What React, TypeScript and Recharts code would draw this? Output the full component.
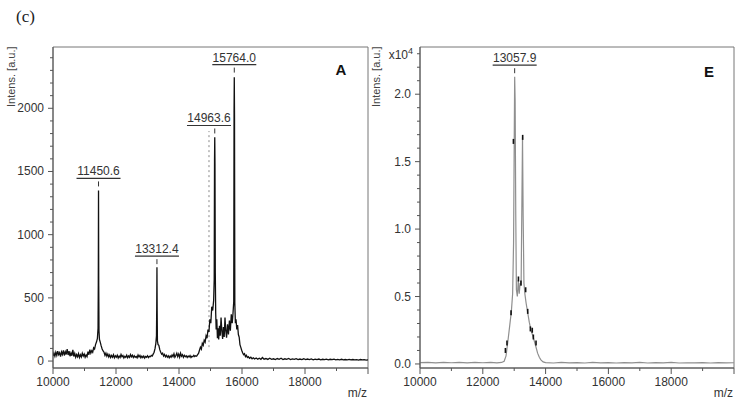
import { LineChart, Line, XAxis, YAxis, ReferenceArea, ReferenceLine, ReferenceDot } from 'recharts'

// panel A spectrum: [m/z, intensity a.u.]
const spectrumA: [number, number][] = [
  [10000, 40], [10030, 62], [10060, 38], [10090, 70], [10120, 45], [10150, 78], [10180, 50], [10210, 66],
  [10240, 35], [10270, 72], [10300, 52], [10330, 85], [10360, 44], [10390, 74], [10420, 52], [10450, 95],
  [10480, 48], [10510, 78], [10540, 38], [10570, 64], [10600, 42], [10630, 88], [10660, 36], [10690, 60],
  [10720, 30], [10750, 52], [10780, 34], [10810, 58], [10840, 28], [10870, 50], [10900, 32], [10930, 62],
  [10960, 40], [10990, 55], [11020, 30], [11050, 48], [11080, 35], [11110, 75], [11140, 50], [11170, 90],
  [11200, 62], [11230, 82], [11260, 70], [11290, 105], [11320, 95], [11350, 130], [11380, 150], [11410, 180],
  [11430, 260], [11438, 620], [11445, 1350], [11452, 600], [11460, 240], [11475, 170], [11500, 150], [11530, 120],
  [11560, 95], [11590, 80], [11620, 70], [11650, 45], [11680, 62], [11710, 38], [11740, 55], [11770, 32],
  [11800, 48], [11830, 28], [11860, 44], [11890, 30], [11920, 50], [11950, 26], [11980, 42], [12010, 30],
  [12040, 46], [12070, 24], [12100, 40], [12130, 28], [12160, 52], [12190, 34], [12220, 44], [12250, 24],
  [12280, 38], [12310, 30], [12340, 46], [12370, 26], [12400, 40], [12430, 30], [12460, 52], [12490, 34],
  [12520, 46], [12550, 28], [12580, 42], [12610, 30], [12640, 36], [12670, 26], [12700, 48], [12730, 32],
  [12760, 44], [12790, 26], [12820, 38], [12850, 28], [12880, 40], [12910, 24], [12940, 36], [12970, 30],
  [13000, 42], [13030, 28], [13060, 38], [13090, 34], [13120, 45], [13150, 40], [13180, 55], [13210, 70],
  [13240, 100], [13265, 140], [13285, 200], [13293, 420], [13300, 742], [13307, 380], [13315, 160], [13335, 130],
  [13360, 125], [13390, 90], [13420, 70], [13450, 55], [13480, 62], [13510, 40], [13540, 52], [13570, 34],
  [13600, 46], [13630, 30], [13660, 42], [13690, 26], [13720, 40], [13750, 30], [13780, 48], [13810, 35],
  [13840, 58], [13870, 30], [13900, 44], [13930, 62], [13960, 35], [13990, 55], [14020, 30], [14050, 62],
  [14080, 38], [14110, 50], [14140, 30], [14170, 46], [14200, 34], [14230, 42], [14260, 28], [14290, 40],
  [14320, 32], [14350, 44], [14380, 28], [14410, 38], [14440, 34], [14470, 45], [14500, 36], [14530, 42],
  [14560, 38], [14590, 50], [14620, 60], [14650, 85], [14680, 110], [14710, 95], [14740, 140], [14770, 125],
  [14800, 165], [14830, 150], [14860, 200], [14890, 180], [14920, 250], [14950, 230], [14980, 330], [15010, 300],
  [15040, 430], [15070, 400], [15100, 480], [15118, 650], [15128, 1580], [15135, 1770], [15142, 1560], [15152, 700],
  [15165, 380], [15180, 250], [15200, 330], [15220, 180], [15240, 260], [15260, 170], [15285, 280], [15310, 200],
  [15335, 345], [15360, 240], [15385, 175], [15410, 270], [15435, 190], [15460, 345], [15485, 240], [15510, 185],
  [15540, 290], [15570, 210], [15600, 320], [15630, 240], [15660, 370], [15690, 300], [15715, 380], [15738, 470],
  [15748, 1970], [15755, 2245], [15762, 1950], [15772, 460], [15790, 300], [15810, 330], [15835, 250], [15860, 285],
  [15885, 210], [15910, 190], [15935, 130], [15960, 110], [15990, 85], [16020, 65], [16050, 50], [16080, 58],
  [16110, 35], [16140, 45], [16170, 28], [16200, 34], [16240, 22], [16280, 30], [16320, 18], [16360, 26],
  [16400, 16], [16450, 24], [16500, 15], [16550, 22], [16600, 14], [16650, 28], [16700, 15], [16760, 20],
  [16820, 13], [16880, 22], [16940, 14], [17000, 18], [17060, 12], [17120, 20], [17180, 14], [17240, 22],
  [17300, 12], [17360, 18], [17420, 13], [17480, 20], [17540, 12], [17600, 17], [17660, 13], [17720, 19],
  [17780, 11], [17840, 16], [17900, 12], [17960, 18], [18020, 11], [18080, 16], [18140, 12], [18200, 17],
  [18260, 10], [18320, 15], [18380, 12], [18440, 16], [18500, 10], [18560, 14], [18620, 11], [18680, 15],
  [18740, 10], [18800, 14], [18860, 11], [18920, 15], [18980, 9], [19040, 13], [19100, 10], [19160, 14],
  [19220, 9], [19280, 12], [19340, 10], [19400, 13], [19460, 9], [19520, 12], [19580, 9], [19640, 11],
  [19700, 8], [19760, 12], [19820, 9], [19880, 11], [19940, 8], [20000, 10],
]

// panel E spectrum: [m/z, intensity x10^4]
const spectrumE: [number, number][] = [
  [10000, 0.01], [10250, 0.012], [10500, 0.008], [10750, 0.011], [11000, 0.009], [11250, 0.012], [11500, 0.008],
  [11750, 0.011], [12000, 0.009], [12250, 0.012], [12450, 0.008], [12600, 0.011], [12680, 0.02], [12740, 0.06],
  [12800, 0.17], [12860, 0.29], [12910, 0.39], [12950, 0.52], [12980, 0.9], [13000, 1.62], [13015, 2.13],
  [13030, 1.95], [13050, 1.1], [13070, 0.55], [13100, 0.5], [13130, 0.62], [13160, 0.52], [13190, 0.6],
  [13220, 0.58], [13245, 1.2], [13265, 1.68], [13285, 1.1], [13310, 0.6], [13340, 0.52], [13380, 0.45],
  [13430, 0.38], [13480, 0.31], [13535, 0.25], [13590, 0.21], [13640, 0.17], [13700, 0.12], [13745, 0.08],
  [13800, 0.05], [13850, 0.03], [13920, 0.015], [14000, 0.01], [14250, 0.007], [14500, 0.011], [14750, 0.008],
  [15000, 0.01], [15250, 0.007], [15500, 0.011], [15750, 0.008], [16000, 0.01], [16250, 0.007], [16500, 0.01],
  [16750, 0.008], [17000, 0.011], [17250, 0.007], [17500, 0.01], [17750, 0.008], [18000, 0.011], [18250, 0.007],
  [18500, 0.009], [18750, 0.008], [19000, 0.01], [19250, 0.007], [19500, 0.01], [19750, 0.008], [20000, 0.009],
]

// black dash marks on panel E
const marksE: [number, number][] = [
  [12720, 0.1], [12770, 0.155], [12900, 0.38], [12975, 1.65], [13135, 0.63], [13215, 0.6], [13270, 1.68],
  [13365, 0.55], [13430, 0.39], [13515, 0.26], [13575, 0.25], [13610, 0.2], [13695, 0.155],
]

// peak labels: text, peak m/z, peak top, label m/z, underline height
const peaksA = [
  { label: '11450.6', mz: 11445, top: 1350, textMz: 11445, line: 1445 },
  { label: '13312.4', mz: 13300, top: 742, textMz: 13300, line: 830 },
  { label: '14963.6', mz: 15135, top: 1770, textMz: 14952, line: 1864 },
  { label: '15764.0', mz: 15755, top: 2245, textMz: 15755, line: 2346 },
]
const peaksE = [{ label: '13057.9', mz: 13015, top: 2.13, textMz: 13015, line: 2.215 }]

const guideA = { mz: 14952, from: 110, to: 1820 }

const xTicks = [10000, 11000, 12000, 13000, 14000, 15000, 16000, 17000, 18000, 19000, 20000]
const xLabels = [10000, 12000, 14000, 16000, 18000]
const yTicksA = [0, 100, 200, 300, 400, 500, 600, 700, 800, 900, 1000, 1100, 1200, 1300, 1400, 1500, 1600, 1700,
  1800, 1900, 2000, 2100, 2200, 2300, 2400]
const yLabelsA = [0, 500, 1000, 1500, 2000]
const yTicksE = [0, 0.1, 0.2, 0.3, 0.4, 0.5, 0.6, 0.7, 0.8, 0.9, 1.0, 1.1, 1.2, 1.3, 1.4, 1.5, 1.6, 1.7, 1.8, 1.9,
  2.0, 2.1, 2.2, 2.3]
const yLabelsE = [0, 0.5, 1.0, 1.5, 2.0]
const exponentTickE = 2.3

const font = '"Liberation Sans", Arial, sans-serif'
const toRows = (s: [number, number][]) => s.map(([mz, v]) => ({ mz, v }))
const near = (a: number, b: number) => Math.abs(a - b) < 1e-6

function XTick(props: any) {
  const { x, y, payload } = props
  const major = payload.value % 2000 === 0
  return (
    <g>
      <line x1={x} x2={x} y1={y} y2={y + (major ? 6 : 3)} stroke="#555" />
      {xLabels.includes(payload.value) && (
        <text x={x} y={y + 18} textAnchor="middle" fontSize={12} fill="#333" fontFamily={font}>
          {payload.value}
        </text>
      )}
    </g>
  )
}

function makeYTick(labels: number[], fmt: (v: number) => string, expTick?: number) {
  return (props: any) => {
    const { x, y, payload } = props
    const major = labels.some((l) => near(l, payload.value))
    return (
      <g>
        <line x1={x - (major ? 5 : 3)} x2={x} y1={y} y2={y} stroke="#555" />
        {major && (
          <text x={x - 9} y={y + 4} textAnchor="end" fontSize={12} fill="#333" fontFamily={font}>
            {fmt(payload.value)}
          </text>
        )}
        {expTick !== undefined && near(expTick, payload.value) && (
          <text x={x - 7} y={y + 5} textAnchor="end" fontSize={12} fill="#333" fontFamily={font}>
            x10<tspan dy={-5} fontSize={9}>4</tspan>
          </text>
        )}
      </g>
    )
  }
}

function PeakLabel({ cx, cy, text }: { cx: number; cy: number; text: string }) {
  return (
    <g>
      <text x={cx} y={cy - 3} textAnchor="middle" fontSize={12} fill="#333" fontFamily={font}>{text}</text>
      <line x1={cx - 22} x2={cx + 22} y1={cy} y2={cy} stroke="#333" strokeWidth={1.2} />
    </g>
  )
}

function MarkDot(props: any) {
  const { cx, cy } = props
  return <line x1={cx} x2={cx} y1={cy - 2.5} y2={cy + 2.5} stroke="#111" strokeWidth={1.6} />
}

interface PanelProps {
  left: number
  width: number
  yWidth: number
  rows: { mz: number; v: number }[]
  color: string
  lineWidth: number
  yDomain: [number, number]
  yTicks: number[]
  yTick: (p: any) => any
  peaks: typeof peaksA
  marks?: { mz: number; v: number }[]
  guide?: typeof guideA
}

function Panel({ left, width, yWidth, rows, color, lineWidth, yDomain, yTicks, yTick, peaks, marks, guide }: PanelProps) {
  return (
    <div style={{ position: 'absolute', left, top: 0 }}>
      <LineChart width={width} height={401} data={rows} margin={{ top: 47, right: 2, bottom: 8, left: 0 }}>
        <ReferenceArea x1={10000} x2={20000} y1={yDomain[0]} y2={yDomain[1]} fill="none" stroke="#777" ifOverflow="visible" />
        <XAxis dataKey="mz" type="number" domain={[10000, 20000]} ticks={xTicks} interval={0} allowDataOverflow
          height={25} tickSize={0} tickMargin={0} tickLine={false} stroke="#555" tick={XTick} />
        <YAxis type="number" domain={yDomain} ticks={yTicks} interval={0} allowDataOverflow width={yWidth}
          tickSize={0} tickMargin={0} tickLine={false} stroke="#555" tick={yTick} />
        {guide && (
          <ReferenceLine segment={[{ x: guide.mz, y: guide.from }, { x: guide.mz, y: guide.to }]}
            stroke="#888" strokeDasharray="2 3" />
        )}
        <Line dataKey="v" type="linear" stroke={color} strokeWidth={lineWidth} dot={false} isAnimationActive={false} />
        {marks && (
          <Line data={marks} dataKey="v" stroke="none" dot={MarkDot} activeDot={false} isAnimationActive={false} />
        )}
        {peaks.map((p) => (
          <ReferenceLine key={'t' + p.label} segment={[{ x: p.mz, y: p.line }, { x: p.mz, y: p.top }]}
            stroke="#333" strokeDasharray="0 3 5 3" />
        ))}
        {peaks.map((p) => (
          <ReferenceDot key={p.label} x={p.textMz} y={p.line} r={0} ifOverflow="visible"
            shape={(s: any) => <PeakLabel cx={s.cx} cy={s.cy} text={p.label} />} />
        ))}
      </LineChart>
    </div>
  )
}

export default function App() {
  return (
    <div style={{ position: 'absolute', left: 0, top: 0, width: 736, height: 401, background: '#fff', fontFamily: font }}>
      <Panel left={0} width={370} yWidth={53} rows={toRows(spectrumA)} color="#111" lineWidth={1.3} yDomain={[-55, 2485]}
        yTicks={yTicksA} yTick={makeYTick(yLabelsA, (v) => String(v))} peaks={peaksA} guide={guideA} />
      <Panel left={370} width={366} yWidth={50} rows={toRows(spectrumE)} color="#8f8f8f" lineWidth={1.2} yDomain={[-0.03, 2.35]}
        yTicks={yTicksE} yTick={makeYTick(yLabelsE, (v) => v.toFixed(1), exponentTickE)} peaks={peaksE}
        marks={toRows(marksE)} />
      <svg width={736} height={401} style={{ position: 'absolute', left: 0, top: 0, pointerEvents: 'none' }}>
        <text x={16} y={22} fontSize={17} fill="#222" fontFamily='"Liberation Serif", "DejaVu Serif", serif'>(c)</text>
        <text transform="translate(15,107) rotate(-90)" fontSize={11} fill="#444">Intens. [a.u.]</text>
        <text transform="translate(380,107) rotate(-90)" fontSize={11} fill="#444">Intens. [a.u.]</text>
        <text x={367} y={397} textAnchor="end" fontSize={12} fill="#333">m/z</text>
        <text x={733} y={397} textAnchor="end" fontSize={12} fill="#333">m/z</text>
        <text x={341} y={75} textAnchor="middle" fontSize={15} fontWeight="bold" fill="#111">A</text>
        <text x={709} y={77} textAnchor="middle" fontSize={15} fontWeight="bold" fill="#111">E</text>
      </svg>
    </div>
  )
}
